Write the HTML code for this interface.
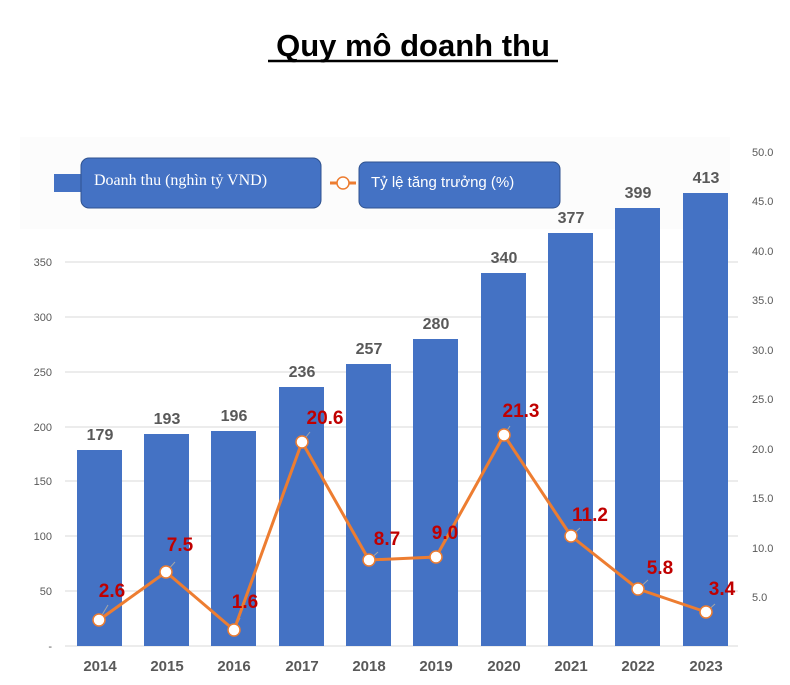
<!DOCTYPE html>
<html><head><meta charset="utf-8"><style>body{margin:0;background:#fff}svg{display:block}</style></head><body>
<svg width="790" height="685" xmlns="http://www.w3.org/2000/svg" font-family="Liberation Sans, sans-serif">
<rect width="790" height="685" fill="#fff"/>
<text x="413" y="56" font-size="31" font-weight="bold" text-anchor="middle" fill="#000">Quy mô doanh thu</text>
<line x1="268" y1="61" x2="558" y2="61" stroke="#000" stroke-width="2.5"/>
<rect x="20" y="137" width="710" height="92" fill="#fcfcfc"/>
<g stroke="#d9d9d9" stroke-width="1">
<line x1="65" y1="646" x2="738" y2="646"/>
<line x1="65" y1="591" x2="738" y2="591"/>
<line x1="65" y1="536" x2="738" y2="536"/>
<line x1="65" y1="481" x2="738" y2="481"/>
<line x1="65" y1="427" x2="738" y2="427"/>
<line x1="65" y1="372" x2="738" y2="372"/>
<line x1="65" y1="317" x2="738" y2="317"/>
<line x1="65" y1="262" x2="738" y2="262"/>
</g>
<g font-size="11" fill="#595959" text-anchor="end">
<text x="52" y="650">-</text><text x="52" y="595">50</text><text x="52" y="540">100</text><text x="52" y="485">150</text><text x="52" y="431">200</text><text x="52" y="376">250</text><text x="52" y="321">300</text><text x="52" y="266">350</text>
</g>
<g font-size="11" fill="#595959">
<text x="752" y="601">5.0</text><text x="752" y="552">10.0</text><text x="752" y="502">15.0</text><text x="752" y="453">20.0</text><text x="752" y="403">25.0</text><text x="752" y="354">30.0</text><text x="752" y="304">35.0</text><text x="752" y="255">40.0</text><text x="752" y="205">45.0</text><text x="752" y="156">50.0</text>
</g>
<g fill="#4472c4">
<rect x="77" y="450" width="45" height="196"/>
<rect x="144" y="434" width="45" height="212"/>
<rect x="211" y="431" width="45" height="215"/>
<rect x="279" y="387" width="45" height="259"/>
<rect x="346" y="364" width="45" height="282"/>
<rect x="413" y="339" width="45" height="307"/>
<rect x="481" y="273" width="45" height="373"/>
<rect x="548" y="233" width="45" height="413"/>
<rect x="615" y="208" width="45" height="438"/>
<rect x="683" y="193" width="45" height="453"/>
</g>
<g font-size="16" font-weight="bold" fill="#595959" text-anchor="middle">
<text x="100" y="440">179</text><text x="167" y="424">193</text><text x="234" y="421">196</text><text x="302" y="377">236</text><text x="369" y="354">257</text><text x="436" y="329">280</text><text x="504" y="263">340</text><text x="571" y="223">377</text><text x="638" y="198">399</text><text x="706" y="183">413</text>
</g>
<g font-size="15" font-weight="bold" fill="#595959" text-anchor="middle">
<text x="100" y="671">2014</text><text x="167" y="671">2015</text><text x="234" y="671">2016</text><text x="302" y="671">2017</text><text x="369" y="671">2018</text><text x="436" y="671">2019</text><text x="504" y="671">2020</text><text x="571" y="671">2021</text><text x="638" y="671">2022</text><text x="706" y="671">2023</text>
</g>
<g stroke="#a6a6a6" stroke-width="1">
<line x1="99" y1="620" x2="108" y2="605"/><line x1="166" y1="572" x2="175" y2="562"/><line x1="234" y1="630" x2="240" y2="618"/>
<line x1="302" y1="442" x2="310" y2="432"/><line x1="369" y1="560" x2="378" y2="552"/><line x1="436" y1="557" x2="440" y2="548"/>
<line x1="504" y1="435" x2="510" y2="426"/><line x1="571" y1="536" x2="580" y2="528"/><line x1="638" y1="589" x2="648" y2="580"/><line x1="706" y1="612" x2="715" y2="604"/>
</g>
<polyline fill="none" stroke="#ed7d31" stroke-width="3" stroke-linejoin="round" points="99,620 166,572 234,630 302,442 369,560 436,557 504,435 571,536 638,589 706,612"/>
<g fill="#fff" stroke="#ed7d31" stroke-width="1.5">
<circle cx="99" cy="620" r="6"/><circle cx="166" cy="572" r="6"/><circle cx="234" cy="630" r="6"/><circle cx="302" cy="442" r="6"/><circle cx="369" cy="560" r="6"/><circle cx="436" cy="557" r="6"/><circle cx="504" cy="435" r="6"/><circle cx="571" cy="536" r="6"/><circle cx="638" cy="589" r="6"/><circle cx="706" cy="612" r="6"/>
</g>
<g font-size="19" font-weight="bold" fill="#c00000" text-anchor="middle">
<text x="112" y="597">2.6</text><text x="180" y="551">7.5</text><text x="245" y="608">1.6</text><text x="325" y="424">20.6</text><text x="387" y="545">8.7</text><text x="445" y="539">9.0</text><text x="521" y="417">21.3</text><text x="590" y="521">11.2</text><text x="660" y="574">5.8</text><text x="722" y="595">3.4</text>
</g>
<rect x="54" y="174" width="28" height="18" fill="#4472c4"/>
<rect x="81" y="158" width="240" height="50" rx="8" fill="#4472c4" stroke="#2f528f" stroke-width="1"/>
<text x="94" y="185" font-family="Liberation Serif, serif" font-size="16" fill="#fff">Doanh thu (nghìn tỷ VND)</text>
<line x1="330" y1="183" x2="356" y2="183" stroke="#ed7d31" stroke-width="3"/>
<circle cx="343" cy="183" r="6" fill="#fff" stroke="#ed7d31" stroke-width="1.5"/>
<rect x="359" y="162" width="201" height="46" rx="7" fill="#4472c4" stroke="#2f528f" stroke-width="1"/>
<text x="371" y="187" font-size="15" fill="#fff">Tỷ lệ tăng trưởng (%)</text>
</svg>
</body></html>
